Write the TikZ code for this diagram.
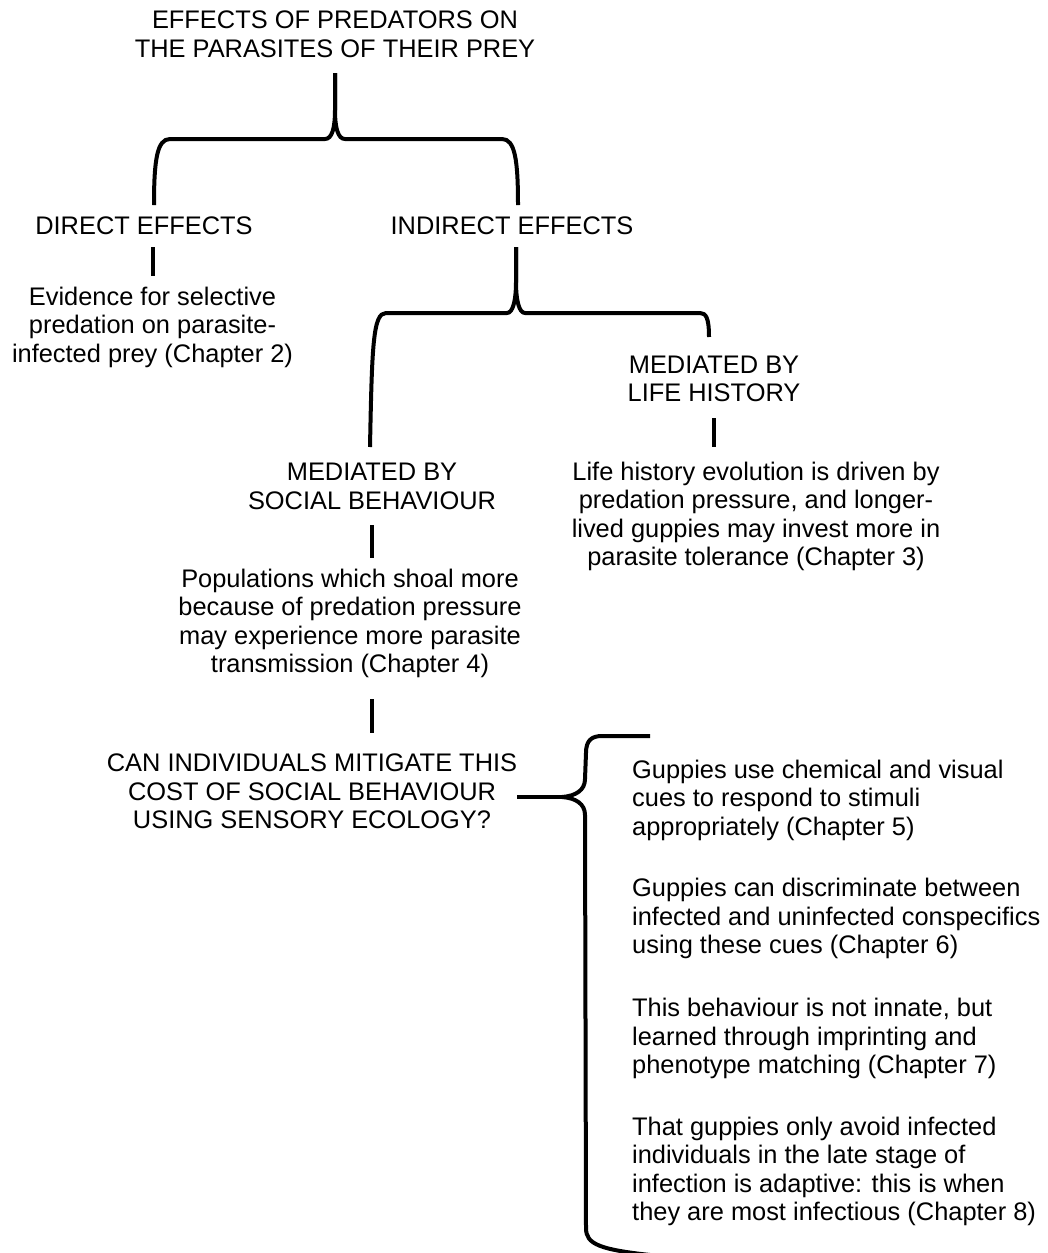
\documentclass[tikz,border=0pt]{standalone}
\usepackage{fontspec}
\setmainfont{Liberation Sans}
\newcommand\myfs{\fontsize{25.4}{28.5}\selectfont}
\begin{document}
\begin{tikzpicture}[x=1pt,y=-1pt,
  lbl/.style={font=\myfs, align=center, inner sep=0pt, anchor=base},
  para/.style={font=\myfs, align=left, inner sep=0pt, anchor=base west},
  conn/.style={line width=4pt},
  brace/.style={line width=4pt, line join=round}]
\useasboundingbox (0,0) rectangle (1047,1253);
% nodes (anchored at the baseline of their last line)
\node[lbl] (title) at (335,57.3) {EFFECTS OF PREDATORS ON\\THE PARASITES OF THEIR PREY};
\node[lbl] (direct) at (144,234) {DIRECT EFFECTS};
\node[lbl] (indirect) at (512,234) {INDIRECT EFFECTS};
\node[lbl] (evid) at (152.5,362) {Evidence for selective\\predation on parasite-\\infected prey (Chapter 2)};
\node[lbl] (medlh) at (714,401.7) {MEDIATED BY\\LIFE HISTORY};
\node[lbl] (lhtext) at (756,565.5) {Life history evolution is driven by\\predation pressure, and longer-\\lived guppies may invest more in\\parasite tolerance (Chapter 3)};
\node[lbl] (medsb) at (372,509) {MEDIATED BY\\SOCIAL BEHAVIOUR};
\node[lbl] (pop) at (350,672.5) {Populations which shoal more\\because of predation pressure\\may experience more parasite\\transmission (Chapter 4)};
\node[lbl] (can) at (312,828.7) {CAN INDIVIDUALS MITIGATE THIS\\COST OF SOCIAL BEHAVIOUR\\USING SENSORY ECOLOGY?};
\node[para] (p5) at (632,835) {Guppies use chemical and visual\\cues to respond to stimuli\\appropriately (Chapter 5)};
\node[para] (p6) at (632,953.7) {Guppies can discriminate between\\infected and uninfected conspecifics\\using these cues (Chapter 6)};
\node[para] (p7) at (632,1073.7) {This behaviour is not innate, but\\learned through imprinting and\\phenotype matching (Chapter 7)};
\node[para] (p8) at (632,1220.5) {That guppies only avoid infected\\individuals in the late stage of\\infection is adaptive: this is when\\they are most infectious (Chapter 8)};
% brace tips and ends
\coordinate (tip1) at (335,73);
\coordinate (tip2) at (516,247);
\coordinate (cusp) at (562,797);
% top brace
\draw[brace] (154,205) .. controls (154,160) and (157,139) .. (170,139) -- (325,139)
  .. controls (332,139) and (335,128) .. (335,110) -- (tip1);
\draw[brace] (tip1) -- (335,110) .. controls (335,128) and (338,139) .. (345,139) -- (502,139)
  .. controls (515,139) and (518,160) .. (518,205);
% second brace
\draw[brace] (370,447) .. controls (372,345) and (373,313) .. (386,313) -- (507,313)
  .. controls (513,313) and (516,300) .. (516,282) -- (tip2);
\draw[brace] (tip2) -- (516,282) .. controls (516,300) and (519,313) .. (525,313) -- (700,313)
  .. controls (706,313) and (709,318) .. (709,337);
% big right brace
\draw[brace] (650,736) -- (602,736) .. controls (591,736) and (586,741) .. (586,753) -- (585,779)
  .. controls (585,790) and (576,796) .. (cusp);
\draw[brace] (cusp) .. controls (576,798) and (585,804) .. (585,815) -- (586,1228)
  .. controls (586,1244) and (598,1250) .. (660,1256);
% connectors
\draw[conn, shorten <=12.7pt, shorten >=10pt] (direct.south -| evid.north) -- (evid.north);
\draw[conn, shorten <=16.3pt, shorten >=14.7pt] (medlh.south) -- (medlh.south |- lhtext.north);
\draw[conn, shorten <=16pt, shorten >=10.7pt] (medsb.south) -- (medsb.south |- pop.north);
\draw[conn, shorten <=21.2pt, shorten >=20.8pt] (pop.south -| medsb.south) -- (can.north -| medsb.south);
\draw[conn] (can.east |- cusp) -- (cusp);
\end{tikzpicture}
\end{document}
